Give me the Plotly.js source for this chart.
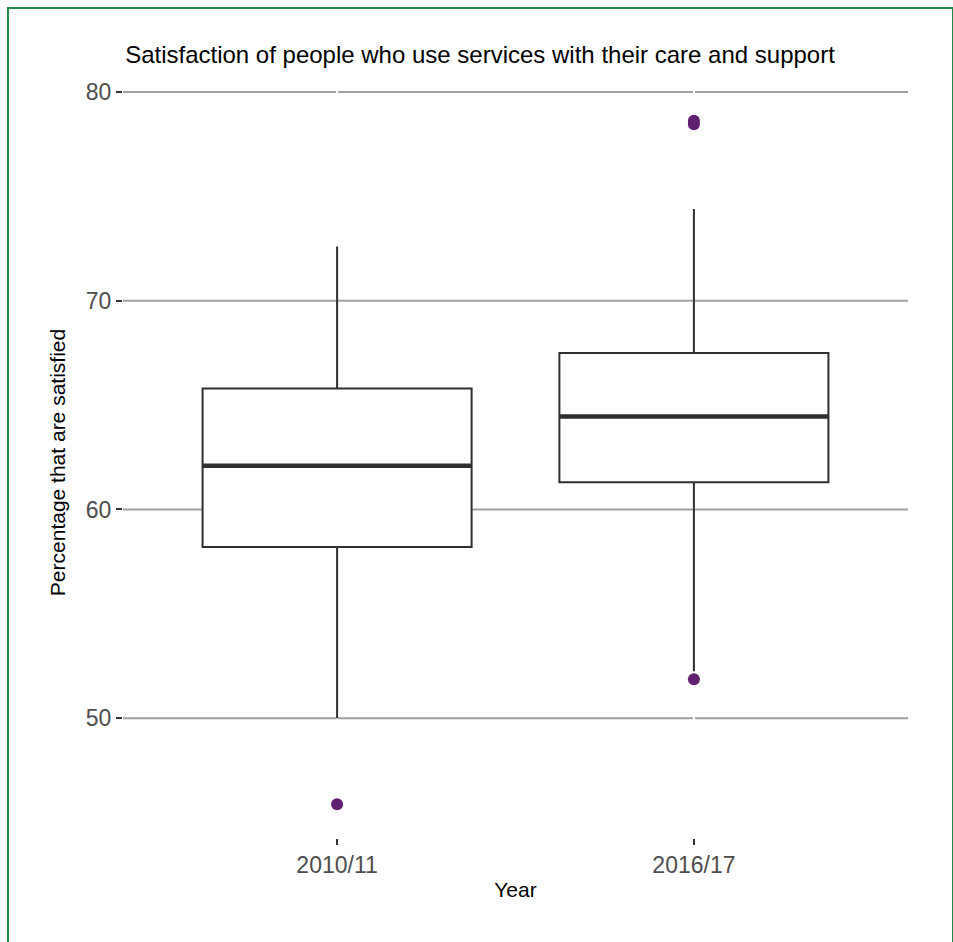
<!DOCTYPE html>
<html>
<head>
<meta charset="utf-8">
<script src="https://cdn.plot.ly/plotly-3.0.1.min.js"></script>
<style>
  html, body { margin: 0; padding: 0; background: #ffffff; }
  #chart { width: 953px; height: 942px; position: absolute; left: 0; top: 0; }
  #frame { position: absolute; left: 7px; top: 7px; width: 943px; height: 1000px;
           border: 2px solid #1f8a4c; border-bottom: none; pointer-events: none; }
</style>
</head>
<body>
<div id="chart"></div>
<div id="frame"></div>
<script>
// Data
const years = ['2010/11', '2016/17'];
const q1 = [58.2, 61.3];
const median = [62.1, 64.45];
const q3 = [65.8, 67.5];
const lowerWhisker = [50.0, 52.25];
const upperWhisker = [72.6, 74.4];
const outlierYear = ['2010/11', '2016/17', '2016/17', '2016/17'];
const outlierValue = [45.88, 78.62, 78.45, 51.87];
const yTicks = [50, 60, 70, 80];

const boxColor = '#2d2f31';
const boxWidth = 0.754;

const traces = [
  {
    type: 'box',
    x: years,
    q1: q1, median: median, q3: q3,
    lowerfence: lowerWhisker, upperfence: upperWhisker,
    width: boxWidth,
    boxpoints: false,
    fillcolor: '#ffffff',
    line: { color: boxColor, width: 2 },
    whiskerwidth: 0,
    hoverinfo: 'skip',
    showlegend: false
  },
  {
    // thick median bar (zero-height box at the median)
    type: 'box',
    x: years,
    q1: median, median: median, q3: median,
    lowerfence: median, upperfence: median,
    width: boxWidth,
    boxpoints: false,
    fillcolor: 'rgba(0,0,0,0)',
    line: { color: boxColor, width: 4.5 },
    whiskerwidth: 0,
    hoverinfo: 'skip',
    showlegend: false
  },
  {
    type: 'scatter',
    mode: 'markers',
    x: outlierYear,
    y: outlierValue,
    marker: { color: '#611f6f', size: 12 },
    hoverinfo: 'skip',
    showlegend: false
  }
];

// horizontal grid lines at the y ticks, then thin white vertical breaks at each category
const gridShapes = yTicks.map(v => ({
  type: 'line', xref: 'paper', yref: 'y', x0: 0, x1: 1, y0: v, y1: v,
  line: { color: '#a0a0a0', width: 2 }, layer: 'below'
}));
const breakShapes = years.map(y => ({
  type: 'line', xref: 'x', yref: 'paper', x0: y, x1: y, y0: 0, y1: 1,
  line: { color: '#ffffff', width: 2 }, layer: 'below'
}));

const layout = {
  width: 953, height: 942,
  margin: { l: 123, r: 45, t: 87, b: 104 },
  paper_bgcolor: '#ffffff',
  plot_bgcolor: '#ffffff',
  font: { family: '"Liberation Sans", Arial, sans-serif', color: '#000000' },
  boxmode: 'overlay',
  title: {
    text: 'Satisfaction of people who use services with their care and support',
    font: { size: 24, color: '#000000' },
    x: 480 / 953, xref: 'container', xanchor: 'center',
    y: 1 - 55 / 942, yref: 'container', yanchor: 'middle'
  },
  xaxis: {
    type: 'category',
    range: [-0.6, 1.6],
    showgrid: false, zeroline: false, showline: false,
    ticks: 'outside', ticklen: 6, tickwidth: 2, tickcolor: '#333333',
    tickfont: { size: 23, color: '#4d4d4d' },
    title: { text: 'Year', font: { size: 21, color: '#000000' }, standoff: 5 }
  },
  yaxis: {
    range: [44.26, 80.24],
    tickmode: 'array', tickvals: yTicks, ticktext: yTicks.map(String),
    showgrid: false,
    zeroline: false, showline: false,
    ticks: 'outside', ticklen: 6, tickwidth: 2, tickcolor: '#333333',
    tickfont: { size: 23, color: '#4d4d4d' },
    title: { text: 'Percentage that are satisfied', font: { size: 21, color: '#000000' }, standoff: 14 }
  },
  shapes: gridShapes.concat(breakShapes)
};

Plotly.newPlot('chart', traces, layout, { displayModeBar: false, staticPlot: true });
</script>
</body>
</html>
